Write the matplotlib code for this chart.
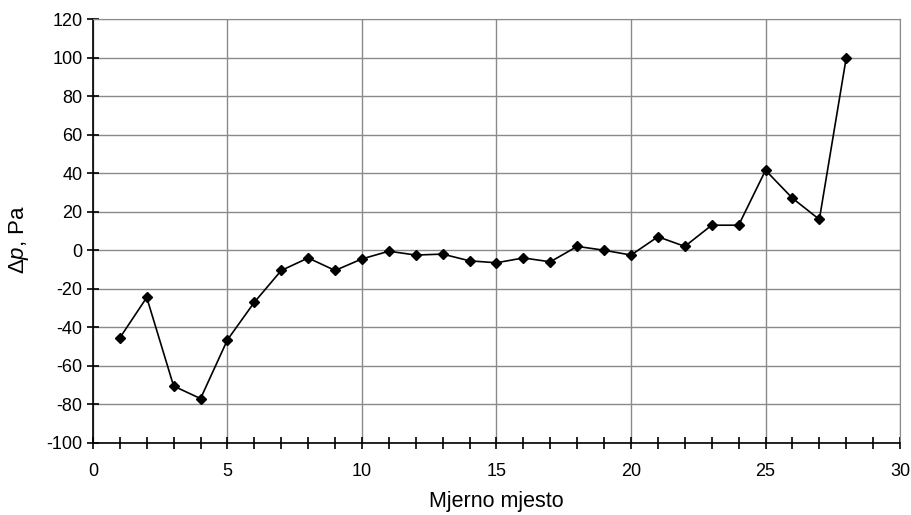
import matplotlib
matplotlib.use('Agg')
import matplotlib.pyplot as plt
from matplotlib.ticker import MultipleLocator

# mjerna mjesta i razlika tlaka
mjesto = list(range(1, 29))
dp = [-45.5, -24.5, -70.5, -77, -46.5, -27, -10.5, -4, -10.5, -4.5,
      -0.5, -2.5, -2, -5.5, -6.5, -4, -6, 2, 0, -2.5,
      7, 2, 13, 13, 41.5, 27, 16, 100]

plt.rcParams['font.family'] = ['Liberation Sans', 'DejaVu Sans']
plt.rcParams['axes.unicode_minus'] = False
plt.rcParams['mathtext.fontset'] = 'custom'
plt.rcParams['mathtext.it'] = 'Liberation Sans:italic'
plt.rcParams['mathtext.rm'] = 'Liberation Sans'

fig = plt.figure(figsize=(9.11, 5.15), dpi=100)
ax = fig.add_axes([0.102, 0.140, 0.886, 0.823])

ax.plot(mjesto, dp, color='black', lw=1.2, marker='D', ms=5.5, zorder=3)

ax.set_xlim(0, 30)
ax.set_ylim(-100, 120)
ax.xaxis.set_major_locator(MultipleLocator(5))
ax.xaxis.set_minor_locator(MultipleLocator(1))
ax.yaxis.set_major_locator(MultipleLocator(20))
ax.grid(True, which='major', color='#8a8a8a', lw=1)
ax.tick_params(axis='both', which='both', direction='inout', color='black', width=1.2)
ax.tick_params(axis='x', which='major', length=9, pad=10, labelsize=13)
ax.tick_params(axis='x', which='minor', length=9)
ax.tick_params(axis='y', which='major', length=9, labelsize=13, pad=3)

for s in ('top', 'right'):
    ax.spines[s].set_color('#8a8a8a')
for s in ('left', 'bottom'):
    ax.spines[s].set_color('black')
    ax.spines[s].set_linewidth(1.2)

ax.set_xlabel('Mjerno mjesto', fontsize=15.5, labelpad=8)
ax.set_ylabel('Δ$\\mathit{p}$, Pa', fontsize=16, labelpad=11, y=0.48)

plt.savefig('out.png', dpi=100)
